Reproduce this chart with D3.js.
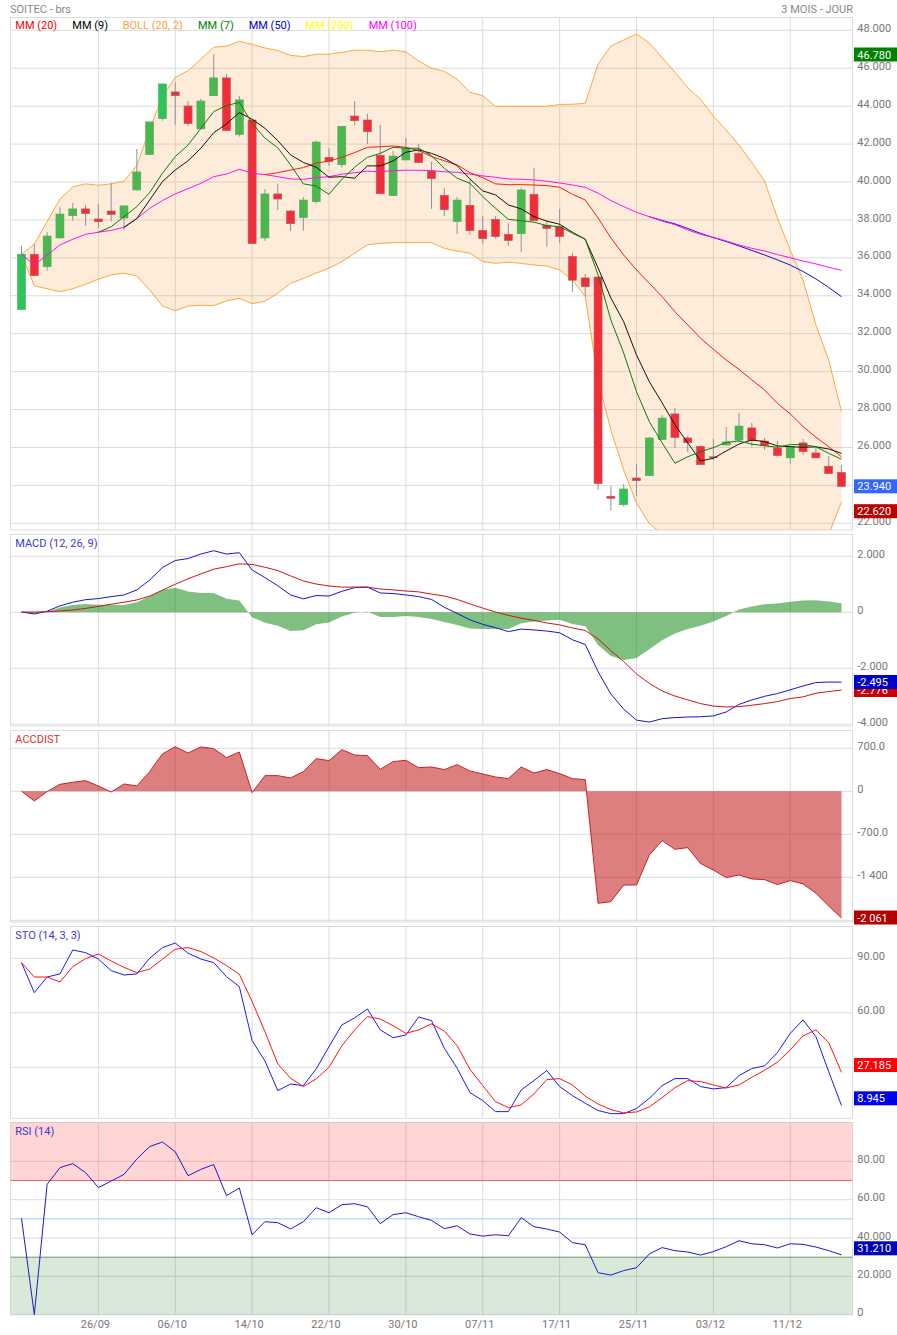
<!DOCTYPE html>
<html><head><meta charset="utf-8">
<script src="https://cdn.jsdelivr.net/npm/d3@7"></script>
<style>
html,body{margin:0;padding:0;background:#fff}
svg{display:block;font-family:Roboto,sans-serif;font-size:11px}
</style></head><body><svg id="c" width="897" height="1335"></svg>
<script>
const dateTicks = [6,12,18,24,30,36,42,48,54,60];
const dateLabels = ["26/09","06/10","14/10","22/10","30/10","07/11","17/11","25/11","03/12","11/12"];

const open = [33.27,36.19,35.53,37.05,38.22,38.58,38.05,38.47,38.10,39.58,41.44,43.34,44.75,44.01,42.80,44.55,45.49,42.50,43.27,37.05,39.37,38.47,38.12,38.96,41.30,40.91,43.48,43.27,41.41,39.28,41.16,41.51,40.58,39.30,37.91,38.77,37.45,38.03,37.24,37.27,39.35,37.72,37.64,36.08,34.94,34.99,23.43,22.98,24.39,24.51,26.41,27.77,26.50,26.06,25.51,26.13,26.39,27.03,26.34,25.97,25.45,26.24,25.71,25.01,24.69];
const high = [36.63,36.73,37.36,38.67,38.89,38.79,38.84,39.95,38.74,41.74,43.17,45.17,45.24,44.27,44.38,46.75,45.70,44.54,43.27,39.63,39.90,38.52,39.21,42.20,41.78,42.94,44.27,43.59,43.01,41.64,42.32,42.01,41.07,39.69,39.21,40.11,38.21,38.21,37.82,39.69,40.74,37.96,38.58,36.26,35.15,34.99,23.97,24.07,25.13,26.55,27.71,28.08,26.61,26.11,26.45,27.08,27.82,27.29,26.50,26.34,26.03,26.45,25.97,25.55,25.08];
const low = [33.27,35.06,35.32,37.01,37.96,37.70,37.58,37.91,37.47,39.54,41.44,43.23,43.02,42.95,42.80,44.55,42.71,42.39,36.75,36.89,38.52,37.42,37.43,38.86,40.85,40.76,43.01,42.01,39.38,39.28,41.16,41.02,38.58,38.21,37.26,37.21,36.75,37.01,36.63,36.31,37.96,36.59,36.78,34.20,33.96,23.77,22.67,22.88,23.44,24.51,26.41,25.97,25.76,25.09,25.34,26.08,26.29,26.03,25.87,25.51,25.13,25.60,25.45,24.62,23.94];
const close = [36.19,35.06,37.15,38.31,38.58,38.33,37.91,38.28,38.74,40.53,43.17,45.17,44.55,43.08,44.27,45.49,42.71,44.33,36.75,39.37,39.10,37.80,39.05,42.11,41.09,42.94,43.23,42.65,39.38,41.37,41.78,41.02,40.18,38.54,39.05,37.43,37.01,37.12,36.91,39.58,37.96,37.54,37.12,34.82,34.48,24.09,23.32,23.81,24.25,26.50,27.55,26.52,26.25,25.09,25.46,26.29,27.13,26.36,26.09,25.57,26.03,25.78,25.45,24.62,23.94];
const brightCandles = [0,11,47];

const bollUpper = [36.19,36.72,37.91,39.10,39.74,39.90,39.83,39.90,40.04,40.86,42.78,44.50,45.52,45.87,46.47,47.11,47.16,47.42,47.26,47.07,46.93,46.68,46.61,46.74,46.74,46.84,46.95,46.95,46.87,46.95,46.86,46.38,46.00,45.84,45.42,44.73,44.55,43.99,43.99,43.99,43.99,43.99,44.09,44.10,44.15,46.22,47.17,47.49,47.81,47.33,46.56,45.79,44.97,44.36,43.48,42.74,41.95,41.02,40.05,38.09,36.41,34.83,32.46,30.61,27.89];
const bollLower = [36.19,34.52,34.37,34.22,34.37,34.61,34.87,35.10,35.19,35.04,34.31,33.46,33.21,33.46,33.50,33.48,33.73,33.87,33.58,33.71,34.13,34.66,34.91,35.20,35.45,35.80,36.24,36.68,36.77,36.80,36.80,36.80,36.80,36.50,36.36,36.24,35.80,35.71,35.77,35.71,35.62,35.57,35.36,34.83,33.95,29.56,26.92,24.81,23.06,22.00,21.40,20.80,20.30,19.90,19.60,19.40,19.30,19.30,19.40,19.60,19.90,20.30,20.80,21.40,23.14];
const mm100 = [36.19,35.62,36.15,36.68,36.98,37.24,37.35,37.45,37.61,38.07,38.61,39.02,39.37,39.65,39.93,40.28,40.42,40.67,40.46,40.39,40.28,40.16,40.14,40.23,40.28,40.41,40.49,40.57,40.54,40.60,40.62,40.62,40.60,40.54,40.51,40.42,40.32,40.25,40.16,40.14,40.11,40.04,39.95,39.84,39.72,39.41,39.02,38.70,38.40,38.17,37.94,37.75,37.47,37.24,37.08,36.89,36.68,36.50,36.36,36.17,36.01,35.83,35.68,35.50,35.34];
const mm50Start = 49;
const mm50 = [38.17,37.97,37.79,37.55,37.29,37.07,36.86,36.63,36.39,36.15,35.89,35.62,35.28,34.89,34.44,33.95];
const mm9Start = 8;
const mm9 = [37.61,38.07,39.05,40.02,40.63,41.12,41.78,42.60,43.06,43.66,43.31,42.83,42.18,41.43,41.03,40.78,40.25,40.28,40.20,40.85,40.85,41.11,41.57,41.69,41.51,41.25,40.86,40.16,39.53,39.32,38.79,38.58,38.17,37.94,37.77,37.35,36.98,35.47,33.88,32.63,30.88,29.47,28.35,27.19,26.24,25.29,25.43,25.81,26.18,26.39,26.31,26.08,26.04,26.01,26.03,25.92,25.69];
const mm7Start = 6;
const mm7 = [37.35,37.64,38.17,38.70,39.44,40.46,41.34,41.95,42.83,43.71,44.03,44.20,43.10,42.31,41.81,40.90,39.90,39.79,39.35,40.14,40.78,41.30,41.51,41.83,41.78,41.78,41.39,40.72,40.20,39.93,39.23,38.61,38.03,37.96,37.88,37.70,37.64,37.30,36.98,35.10,32.72,30.98,28.94,27.36,26.24,25.17,25.51,25.78,25.99,26.27,26.34,26.17,26.09,26.01,26.15,26.15,26.04,25.69,25.38];
const mm20Start = 19;
const mm20 = [40.39,40.49,40.63,40.76,40.99,41.11,41.30,41.55,41.83,41.86,41.90,41.83,41.65,41.34,41.12,40.90,40.49,40.23,39.90,39.86,39.86,39.84,39.81,39.72,39.35,39.05,38.10,37.05,36.15,35.36,34.66,33.95,33.16,32.46,31.76,31.18,30.61,30.12,29.56,29.03,28.33,27.77,27.10,26.54,26.04,25.51];

const macdLine = [0.01,-0.06,0.04,0.23,0.36,0.45,0.49,0.56,0.62,0.80,1.15,1.60,1.85,1.92,2.08,2.20,2.08,2.13,1.51,1.24,0.95,0.62,0.48,0.60,0.58,0.75,0.88,0.90,0.69,0.67,0.62,0.56,0.46,0.18,-0.04,-0.27,-0.43,-0.55,-0.69,-0.60,-0.63,-0.67,-0.73,-0.98,-1.15,-2.12,-2.92,-3.46,-3.85,-3.92,-3.80,-3.76,-3.74,-3.73,-3.70,-3.56,-3.29,-3.13,-3.00,-2.90,-2.77,-2.63,-2.51,-2.49,-2.495];
const macdSignal = [0.01,0.01,0.02,0.05,0.08,0.14,0.21,0.29,0.36,0.44,0.58,0.79,1.00,1.20,1.37,1.54,1.63,1.73,1.71,1.61,1.49,1.30,1.12,1.01,0.94,0.90,0.90,0.90,0.83,0.80,0.76,0.73,0.65,0.58,0.46,0.30,0.15,0.01,-0.11,-0.21,-0.29,-0.38,-0.45,-0.56,-0.65,-0.95,-1.37,-1.76,-2.20,-2.54,-2.81,-2.99,-3.13,-3.26,-3.35,-3.38,-3.37,-3.32,-3.26,-3.19,-3.08,-3.02,-2.89,-2.83,-2.776];
const macdHist = [0,-0.04,0.01,0.17,0.26,0.30,0.27,0.27,0.26,0.36,0.57,0.80,0.88,0.74,0.69,0.69,0.48,0.42,-0.18,-0.37,-0.48,-0.67,-0.64,-0.43,-0.36,-0.15,-0.02,0.02,-0.17,-0.17,-0.13,-0.17,-0.24,-0.35,-0.45,-0.58,-0.60,-0.60,-0.60,-0.39,-0.33,-0.29,-0.27,-0.42,-0.50,-1.17,-1.56,-1.70,-1.63,-1.32,-1.00,-0.76,-0.60,-0.48,-0.33,-0.13,0.10,0.21,0.29,0.31,0.38,0.42,0.43,0.39,0.32];

const accdist = [0,-157,-5,114,147,174,87,-11,119,87,320,608,727,624,722,695,548,640,-22,255,255,217,320,532,499,678,591,581,358,483,505,385,396,353,434,331,282,233,206,396,298,353,288,206,190,-1823,-1796,-1525,-1525,-1036,-803,-944,-917,-1177,-1281,-1405,-1362,-1427,-1438,-1519,-1454,-1508,-1660,-1867,-2061];

const stoK = [87.6,71.1,79.7,81.4,94.6,93.1,89.6,83.2,80.8,81.4,90,95.9,98.4,92.8,89.6,87.6,79.9,74.4,44.7,33.5,17.2,20.8,19.9,29.1,41.4,53.3,57.2,62.1,50.6,46.3,47.8,57.7,55.7,40.5,29.5,16.1,11.7,5.6,5.6,17.5,22.7,28.2,19.4,14.4,10.2,6.2,4.5,4.5,7.3,12.9,19.9,23.8,23.8,19.4,18.1,18.8,25.4,29.3,30.8,38.1,48.7,56.1,46.9,27.6,8.945];
const stoD = [87.6,79.7,79.7,77.0,85.4,89.8,92.4,88.5,85.0,82.1,84.1,89.5,95.0,95.9,93.7,90.2,86.0,81.2,66.2,49.6,31.9,24.0,19.4,23.6,30.0,41.8,50.6,57.9,56.6,52.9,48.7,50.6,53.9,50.0,41.9,28.9,19.9,11.1,7.8,9.3,15.4,23.2,23.8,20.3,14.1,9.8,6.7,4.9,5.4,8.2,13.3,18.8,22.7,22.1,20.3,18.6,20.3,24.5,28.4,32.8,39.6,47.3,50.6,43.6,27.185];

const rsi = [50.3,0,68,76.7,78.8,74.1,66.3,69.7,73.2,81.2,87.7,90.1,85,72.5,75.8,78.3,62.1,66.1,41.7,48.5,48,44.7,48.5,55.8,53.2,57.4,57.9,56.3,47.5,52.2,53.2,51.1,49.2,44.9,46.4,42.1,41,41.7,41.2,50.6,45.9,44.7,43.1,37.6,36.5,21.9,20.7,23,24.5,31.7,35,33.4,32.7,31.1,32.9,35.5,38.6,37,36.5,34.8,37,36.7,35.3,33.4,31.21];

const mainGrid = [22,24,26,28,30,32,34,36,38,40,42,44,46,48];
const mainTicks = [22,26,28,30,32,34,36,38,40,42,44,46,48];
const mainTickLabels = ["22.000","26.000","28.000","30.000","32.000","34.000","36.000","38.000","40.000","42.000","44.000","46.000","48.000"];
const macdTicks = [-4,-2,0,2];
const macdTickLabels = ["-4.000","-2.000","0","2.000"];
const accGrid = [-2100,-1400,-700,0,700];
const accTicks = [-1400,-700,0,700];
const accTickLabels = ["-1 400","-700.0","0","700.0"];
const stoGrid = [30,60,90];
const stoTicks = [60,90];
const stoTickLabels = ["60.00","90.00"];
const rsiTicks = [0,20,40,60,80];
const rsiTickLabels = ["0","20.000","40.000","60.00","80.00"];

const legendNames = ["MM (20)","MM (9)","BOLL (20, 2)","MM (7)","MM (50)","MM (200)","MM (100)"];
const legendColors = ["#ff0000","#000000","#ffa040","#008000","#0000cc","#ffff00","#ff00ff"];
const legendX = [15.3,72.3,122.7,198,248.7,305.3,368.7];

const svg = d3.select("#c");
const L=10.5,R=852.5;
const x = d3.scaleLinear().domain([0,64]).range([21.5,841.5]);

function panel(id,top,bottom,dom,rng,grid,ticks,labels){
  const y = d3.scaleLinear().domain(dom).range(rng);
  svg.append("clipPath").attr("id",id).append("rect").attr("x",L).attr("y",top).attr("width",R-L).attr("height",bottom-top);
  const gridG = svg.append("g").attr("stroke","#dcdcdc").attr("stroke-width",1);
  gridG.selectAll(".h").data(grid).join("line").attr("x1",L).attr("x2",R).attr("y1",d=>y(d)).attr("y2",d=>y(d));
  gridG.selectAll(".v").data(dateTicks).join("line").attr("x1",d=>x(d)).attr("x2",d=>x(d)).attr("y1",top).attr("y2",bottom);
  gridG.append("rect").attr("x",L).attr("y",top).attr("width",R-L).attr("height",bottom-top).attr("fill","none");
  const ax = d3.axisRight(y).tickValues(ticks).tickFormat((d,i)=>labels[i]).tickSize(0).tickPadding(4.8);
  const a = svg.append("g").attr("transform",`translate(${R},0)`).call(ax);
  a.select(".domain").remove();
  a.selectAll("text").attr("dy","0.1em").attr("fill","#777").attr("font-family","Roboto").attr("font-size",11);
  const plot = svg.append("g").attr("clip-path",`url(#${id})`);
  return {y,plot};
}
function lineOf(y,start=0){return d3.line().defined(d=>d!=null).x((d,i)=>x(i+start)).y(d=>y(d));}
function drawLine(g,y,vals,color,start=0,w=1){
  g.append("path").attr("d",lineOf(y,start)(vals)).attr("fill","none").attr("stroke",color).attr("stroke-width",w).attr("stroke-linejoin","round");
}
function txt(t,px,py,color,anchor){
  svg.append("text").attr("x",px).attr("y",py).attr("fill",color).attr("text-anchor",anchor||"start").attr("font-family","Roboto").attr("font-size",11).text(t);
}
function tag(t,cy,bg){
  svg.append("rect").attr("x",854).attr("y",cy-7).attr("width",43).attr("height",14).attr("fill",bg);
  txt(t,857.3,cy+4,"#fff");
}

txt("SOITEC - brs",10,12.5,"#888");
txt("3 MOIS - JOUR",853,12.5,"#888","end");

/* main */
const m = panel("pm",17.5,530,[22,48],[523.3,30.3],mainGrid,mainTicks,mainTickLabels);
const idx = d3.range(65);
m.plot.append("path").attr("d",d3.area().x(i=>x(i)).y0(i=>m.y(bollLower[i])).y1(i=>m.y(bollUpper[i]))(idx)).attr("fill","rgb(240,150,40)").attr("fill-opacity",0.175);
drawLine(m.plot,m.y,bollUpper,"#fba83e");
drawLine(m.plot,m.y,bollLower,"#fba83e");
const cg = m.plot.append("g");
cg.selectAll("line").data(idx).join("line").attr("x1",i=>x(i)).attr("x2",i=>x(i)).attr("y1",i=>m.y(high[i])).attr("y2",i=>m.y(low[i])).attr("stroke","#8a95a0").attr("stroke-width",1);
cg.selectAll("rect").data(idx).join("rect")
  .attr("x",i=>x(i)-4).attr("width",8)
  .attr("y",i=>m.y(Math.max(open[i],close[i])))
  .attr("height",i=>Math.max(1,Math.abs(m.y(open[i])-m.y(close[i]))))
  .attr("fill",i=>close[i]>=open[i]?(brightCandles.includes(i)?"#2bc55a":"#4ab84e"):"#f32d35")
  .attr("stroke",i=>close[i]>=open[i]?"#5aa860":"#b06068").attr("stroke-width",0.6);
drawLine(m.plot,m.y,mm50,"#1010cc",mm50Start);
drawLine(m.plot,m.y,mm100,"#ff10f0");
drawLine(m.plot,m.y,mm20,"#ff1a10",mm20Start);
drawLine(m.plot,m.y,mm9,"#1a1208",mm9Start);
drawLine(m.plot,m.y,mm7,"#0a7d0a",mm7Start);
legendNames.forEach((n,i)=>txt(n,legendX[i],29,legendColors[i]));
tag("46.780",54.5,"#008000");
tag("23.940",486.3,"#3366ff");
tag("22.620",511.2,"#b80000");

/* MACD */
const p2 = panel("p2",534.5,726,[-4,2],[724.3,556.3],macdTicks,macdTicks,macdTickLabels);
p2.plot.append("path").attr("d",d3.area().x((d,i)=>x(i)).y0(p2.y(0)).y1(d=>p2.y(d))(macdHist)).attr("fill","rgb(0,128,0)").attr("fill-opacity",0.5);
drawLine(p2.plot,p2.y,macdLine,"#1515cc");
drawLine(p2.plot,p2.y,macdSignal,"#cc1515");
txt("MACD (12, 26, 9)",15.3,547,"#3a3ad8");
tag("-2.776",690,"#cc0000");
tag("-2.495",682,"#0000cc");

/* ACCDIST */
const p3 = panel("p3",730.5,922,[-2100,700],[920.3,748.3],accGrid,accTicks,accTickLabels);
p3.plot.append("path").attr("d",d3.area().x((d,i)=>x(i)).y0(p3.y(0)).y1(d=>p3.y(d))(accdist)).attr("fill","rgb(190,0,0)").attr("fill-opacity",0.5);
drawLine(p3.plot,p3.y,accdist,"#c8202a");
txt("ACCDIST",15.3,743,"#dd3030");
tag("-2 061",917.5,"#b30000");

/* STO */
const p4 = panel("p4",926.5,1118.3,[30,90],[1067.3,958.3],stoGrid,stoTicks,stoTickLabels);
drawLine(p4.plot,p4.y,stoK,"#1a1aee");
drawLine(p4.plot,p4.y,stoD,"#ff1414");
txt("STO (14, 3, 3)",15.3,939,"#3a3ad8");
tag("27.185",1065,"#ff0000");
tag("8.945",1098.3,"#0000ee");

/* RSI */
const p5 = panel("p5",1122.5,1314.7,[0,100],[1314.7,1123],rsiTicks,rsiTicks,rsiTickLabels);
p5.plot.append("rect").attr("x",L).attr("width",R-L).attr("y",p5.y(100)-1).attr("height",p5.y(70)-p5.y(100)+1).attr("fill","rgb(255,0,0)").attr("fill-opacity",0.165);
p5.plot.append("rect").attr("x",L).attr("width",R-L).attr("y",p5.y(30)).attr("height",p5.y(0)-p5.y(30)).attr("fill","rgb(0,110,0)").attr("fill-opacity",0.15);
[[70,"#f46060"],[50,"#99ccff"],[30,"#659a65"]].forEach(([v,c])=>{
  p5.plot.append("line").attr("x1",L).attr("x2",R).attr("y1",p5.y(v)).attr("y2",p5.y(v)).attr("stroke",c).attr("stroke-width",1);
});
drawLine(p5.plot,p5.y,rsi,"#1a1acc");
txt("RSI (14)",15.3,1135,"#3a3ad8");
tag("31.210",1248.3,"#0000bb");

/* date axis */
const dateAxis = d3.axisBottom(x).tickValues(dateTicks).tickFormat((d,i)=>dateLabels[i]).tickSize(0).tickPadding(0);
const dg = svg.append("g").attr("transform","translate(-3.5,1320.5)").call(dateAxis);
dg.select(".domain").remove();
dg.selectAll("text").attr("fill","#777").attr("font-family","Roboto").attr("font-size",11);
</script></body></html>
